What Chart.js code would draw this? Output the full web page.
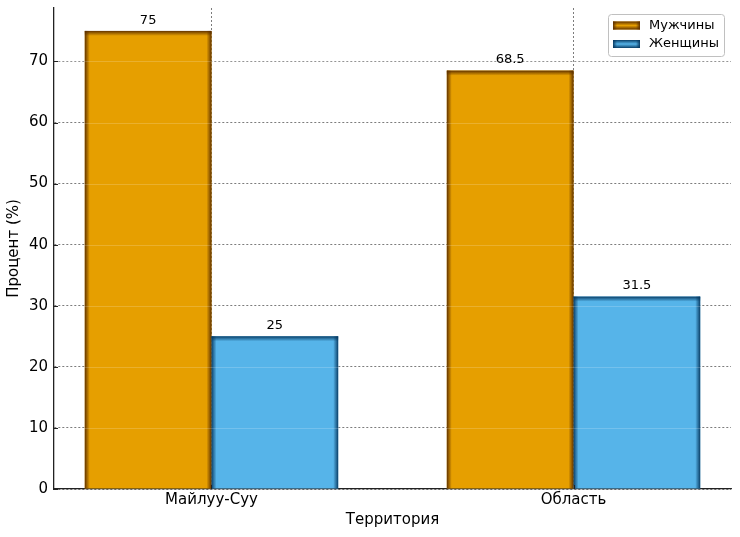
<!DOCTYPE html>
<html>
<head>
<meta charset="utf-8">
<script src="https://cdn.jsdelivr.net/npm/chart.js@4/dist/chart.umd.min.js"></script>
<style>
	html, body { margin: 0; padding: 0; background: #fff; }
	canvas { display: block; }
</style>
</head>
<body>
<canvas id="chart" width="740" height="537"></canvas>
<script>
// Data
const territories = ["Майлуу-Суу", "Область"];
const seriesNames = ["Мужчины", "Женщины"];
const menValues = [75, 68.5];
const womenValues = [25, 31.5];
const yTicks = [0, 10, 20, 30, 40, 50, 60, 70];

const fontFamily = "'DejaVu Sans', sans-serif";
const fillColors = ["#E69F00", "#56B4E9"];
const edgeColors = ["rgba(90,45,0,", "rgba(5,55,95,"];

// Draws a rectangle edge with a soft dark shade going inward
function shadeEdges(ctx, left, top, right, bottom, edge, sides, depth) {
	const strips = {
		left: [left, top, left + depth, top, left, top, depth, bottom - top],
		right: [right, top, right - depth, top, right - depth, top, depth, bottom - top],
		top: [left, top, left, top + depth, left, top, right - left, depth],
		bottom: [left, bottom, left, bottom - depth, left, bottom - depth, right - left, depth],
	};
	sides.forEach((side) => {
		const s = strips[side];
		const g = ctx.createLinearGradient(s[0], s[1], s[2], s[3]);
		g.addColorStop(0, edge + "0.95)");
		g.addColorStop(0.35, edge + "0.6)");
		g.addColorStop(1, edge + "0)");
		ctx.fillStyle = g;
		ctx.fillRect(s[4], s[5], s[6], s[7]);
	});
}

// Shaded bar edges, faint lines across bars and value labels
const barDecor = {
	id: "barDecor",
	afterDatasetsDraw(chart) {
		const ctx = chart.ctx;
		const area = chart.chartArea;
		const yScale = chart.scales.y;

		ctx.save();
		chart.data.datasets.forEach((ds, di) => {
			chart.getDatasetMeta(di).data.forEach((bar) => {
				const p = bar.getProps(["x", "y", "base", "width"], true);
				const left = p.x - p.width / 2;
				const right = p.x + p.width / 2;
				shadeEdges(ctx, left, p.y, right, p.base, edgeColors[di], ["left", "right", "top"], 5);
			});
		});

		ctx.strokeStyle = "rgba(255,255,255,0.18)";
		ctx.lineWidth = 1;
		yTicks.slice(1).forEach((v) => {
			const py = Math.round(yScale.getPixelForValue(v)) + 0.5;
			ctx.beginPath();
			ctx.moveTo(area.left, py);
			ctx.lineTo(area.right, py);
			ctx.stroke();
		});

		ctx.fillStyle = "#000";
		ctx.font = "13px " + fontFamily;
		ctx.textAlign = "center";
		ctx.textBaseline = "bottom";
		chart.data.datasets.forEach((ds, di) => {
			chart.getDatasetMeta(di).data.forEach((bar, i) => {
				const p = bar.getProps(["x", "y"], true);
				ctx.fillText(String(ds.data[i].y), p.x, p.y - 4);
			});
		});
		ctx.restore();
	},
};

// Small inward tick marks like the original axes
const innerTicks = {
	id: "innerTicks",
	afterDraw(chart) {
		const ctx = chart.ctx;
		const area = chart.chartArea;
		ctx.save();
		ctx.strokeStyle = "#222";
		ctx.lineWidth = 1;
		chart.scales.y.ticks.forEach((t) => {
			const py = Math.round(chart.scales.y.getPixelForValue(t.value)) + 0.5;
			ctx.beginPath();
			ctx.moveTo(area.left, py);
			ctx.lineTo(area.left + 4, py);
			ctx.stroke();
		});
		chart.scales.x.ticks.forEach((t) => {
			const px = Math.round(chart.scales.x.getPixelForValue(t.value)) + 0.5;
			ctx.beginPath();
			ctx.moveTo(px, area.bottom);
			ctx.lineTo(px, area.bottom - 4);
			ctx.stroke();
		});
		ctx.restore();
	},
};

// Boxed legend inside the top right corner
const boxLegend = {
	id: "boxLegend",
	afterDraw(chart) {
		const ctx = chart.ctx;
		const area = chart.chartArea;
		const w = 116;
		const h = 42;
		const x0 = area.right - 7 - w;
		const y0 = area.top + 6;

		ctx.save();
		ctx.fillStyle = "rgba(255,255,255,0.85)";
		ctx.strokeStyle = "#c0c0c0";
		ctx.lineWidth = 1;
		ctx.beginPath();
		ctx.roundRect(x0 + 0.5, y0 + 0.5, w, h, 3);
		ctx.fill();
		ctx.stroke();

		ctx.font = "13px " + fontFamily;
		ctx.textBaseline = "middle";
		ctx.textAlign = "left";
		chart.data.datasets.forEach((ds, di) => {
			const cy = y0 + 11.5 + di * 18.5;
			const px = x0 + 5;
			ctx.fillStyle = fillColors[di];
			ctx.fillRect(px, cy - 4, 27, 8);
			shadeEdges(ctx, px, cy - 4, px + 27, cy + 4, edgeColors[di], ["left", "right", "top", "bottom"], 4);
			ctx.fillStyle = "#000";
			ctx.fillText(ds.label, x0 + 41, cy);
		});
		ctx.restore();
	},
};

const gridStyle = { color: "#6e6e6e", lineWidth: 0.9, drawTicks: false, offset: false };
const borderStyle = { color: "#222", width: 1.3, dash: [2, 2] };

new Chart(document.getElementById("chart"), {
	type: "bar",
	data: {
		datasets: [
			{
				label: seriesNames[0],
				data: menValues.map((v, i) => ({ x: i, y: v })),
				backgroundColor: fillColors[0],
				borderWidth: 0,
			},
			{
				label: seriesNames[1],
				data: womenValues.map((v, i) => ({ x: i, y: v })),
				backgroundColor: fillColors[1],
				borderWidth: 0,
			},
		],
	},
	options: {
		responsive: false,
		animation: false,
		categoryPercentage: 0.7,
		barPercentage: 1.0,
		layout: {
			padding: { top: 8, right: 9, left: 0, bottom: 0 },
		},
		plugins: {
			legend: { display: false },
			tooltip: { enabled: false },
		},
		scales: {
			x: {
				type: "linear",
				min: -0.435,
				max: 1.435,
				offset: false,
				afterBuildTicks: (scale) => {
					scale.ticks = territories.map((t, i) => ({ value: i }));
				},
				afterFit: (scale) => {
					scale.height = 48;
					scale.paddingLeft = 0;
					scale.paddingRight = 0;
				},
				grid: gridStyle,
				border: borderStyle,
				ticks: {
					callback: (v) => territories[v],
					color: "#000",
					padding: 2,
					maxRotation: 0,
					font: { family: fontFamily, size: 15 },
				},
				title: {
					display: true,
					text: "Территория",
					color: "#000",
					padding: { top: 0, bottom: 8 },
					font: { family: fontFamily, size: 15 },
				},
			},
			y: {
				min: 0,
				max: 78.75,
				afterBuildTicks: (scale) => {
					scale.ticks = yTicks.map((v) => ({ value: v }));
				},
				afterFit: (scale) => {
					scale.width = 54;
					scale.paddingTop = 0;
					scale.paddingBottom = 0;
				},
				grid: gridStyle,
				border: borderStyle,
				ticks: {
					color: "#000",
					padding: 6,
					font: { family: fontFamily, size: 15 },
				},
				title: {
					display: true,
					text: "Процент (%)",
					color: "#000",
					padding: { top: 5, bottom: 0 },
					font: { family: fontFamily, size: 15 },
				},
			},
		},
	},
	plugins: [barDecor, innerTicks, boxLegend],
});
</script>
</body>
</html>
